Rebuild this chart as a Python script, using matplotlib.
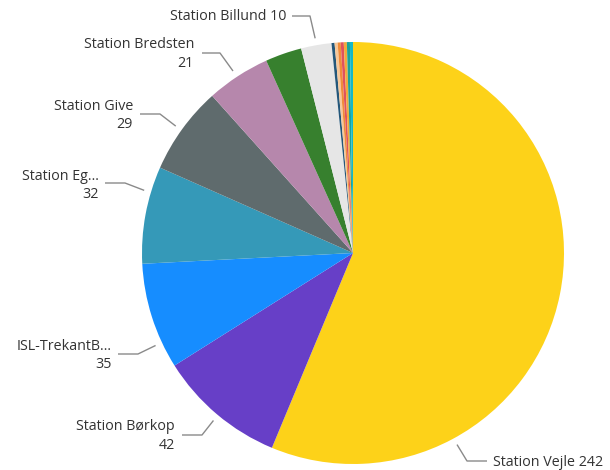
import numpy as np
import matplotlib
matplotlib.use("Agg")
import matplotlib.pyplot as plt

# ---- data ----
stations = ["Station Vejle", "Station Børkop", "ISL-TrekantB…", "Station Eg…",
            "Station Give", "Station Bredsten", "Station (grøn)", "Station Billund",
            "Station a", "Station b", "Station c", "Station d", "Station e",
            "Station f", "Station g"]
counts = [242, 42, 35, 32, 29, 21, 12, 10, 1, 1, 1, 1, 1, 1, 1]
colors = ["#FDD219", "#673FC7", "#168DFF", "#3599B8", "#5F6B6D", "#B687AC",
          "#37802E", "#E6E6E6", "#24577A", "#F6C89A", "#F08C3A", "#E0525C",
          "#F2A93B", "#1AA39A", "#14B8C8"]
labelled = ["Station Billund", "Station Bredsten", "Station Give", "Station Eg…",
            "ISL-TrekantB…", "Station Børkop", "Station Vejle"]

# ---- layout (pixel coordinates of the 610x470 canvas, y downward) ----
W, H = 610, 470
CX, CY, R = 353, 253, 211
# name -> (anchor angle clockwise from 12 o'clock, elbow, line end, text pos, ha, one line)
label_layout = {
    "Station Billund":  (350.0, (310, 16), (292, 16), (286, 17), "right", True),
    "Station Bredsten": (326.6, (220, 53), (202, 53), (194, 45), "right", False),
    "Station Give":     (305.6, (160, 114), (140, 114), (133, 106), "right", False),
    "Station Eg…":      (286.7, (125, 183), (105, 183), (99, 176), "right", False),
    "ISL-TrekantB…":    (244.9, (138, 354), (118, 354), (112, 346), "right", False),
    "Station Børkop":   (219.8, (202, 435), (182, 435), (175, 427), "right", False),
    "Station Vejle":    (151.5, (467, 461), (487, 461), (493, 462), "left", True),
}

plt.rcParams['font.family'] = ['Open Sans', 'DejaVu Sans']
fig = plt.figure(figsize=(W / 100, H / 100), dpi=100)
ax = fig.add_axes([0, 0, 1, 1])

def Y(py):
    return H - py

ax.pie(counts, colors=colors, startangle=90, counterclock=False,
       center=(CX, Y(CY)), radius=R, wedgeprops=dict(linewidth=0))

ax.set_xlim(0, W)
ax.set_ylim(0, H)
ax.set_aspect('auto')
ax.axis('off')

text_color = "#333333"
line_color = "#8a8a8a"
fs = 10.3
for name in labelled:
    val = counts[stations.index(name)]
    ang, elbow, lend, tpos, ha, oneline = label_layout[name]
    th = np.deg2rad(ang)
    sx = CX + (R + 7) * np.sin(th)
    sy = CY - (R + 7) * np.cos(th)
    ax.plot([sx, elbow[0], lend[0]], [Y(sy), Y(elbow[1]), Y(lend[1])],
            color=line_color, lw=1.0, solid_capstyle='butt')
    if oneline:
        ax.text(tpos[0], Y(tpos[1]), f"{name} {val}", ha=ha, va='center',
                fontsize=fs, color=text_color)
    else:
        ax.text(tpos[0], Y(tpos[1]), name, ha=ha, va='center',
                fontsize=fs, color=text_color)
        ax.text(tpos[0], Y(tpos[1] + 18.5), str(val), ha=ha, va='center',
                fontsize=fs, color=text_color)

fig.savefig("out.png", dpi=100)
